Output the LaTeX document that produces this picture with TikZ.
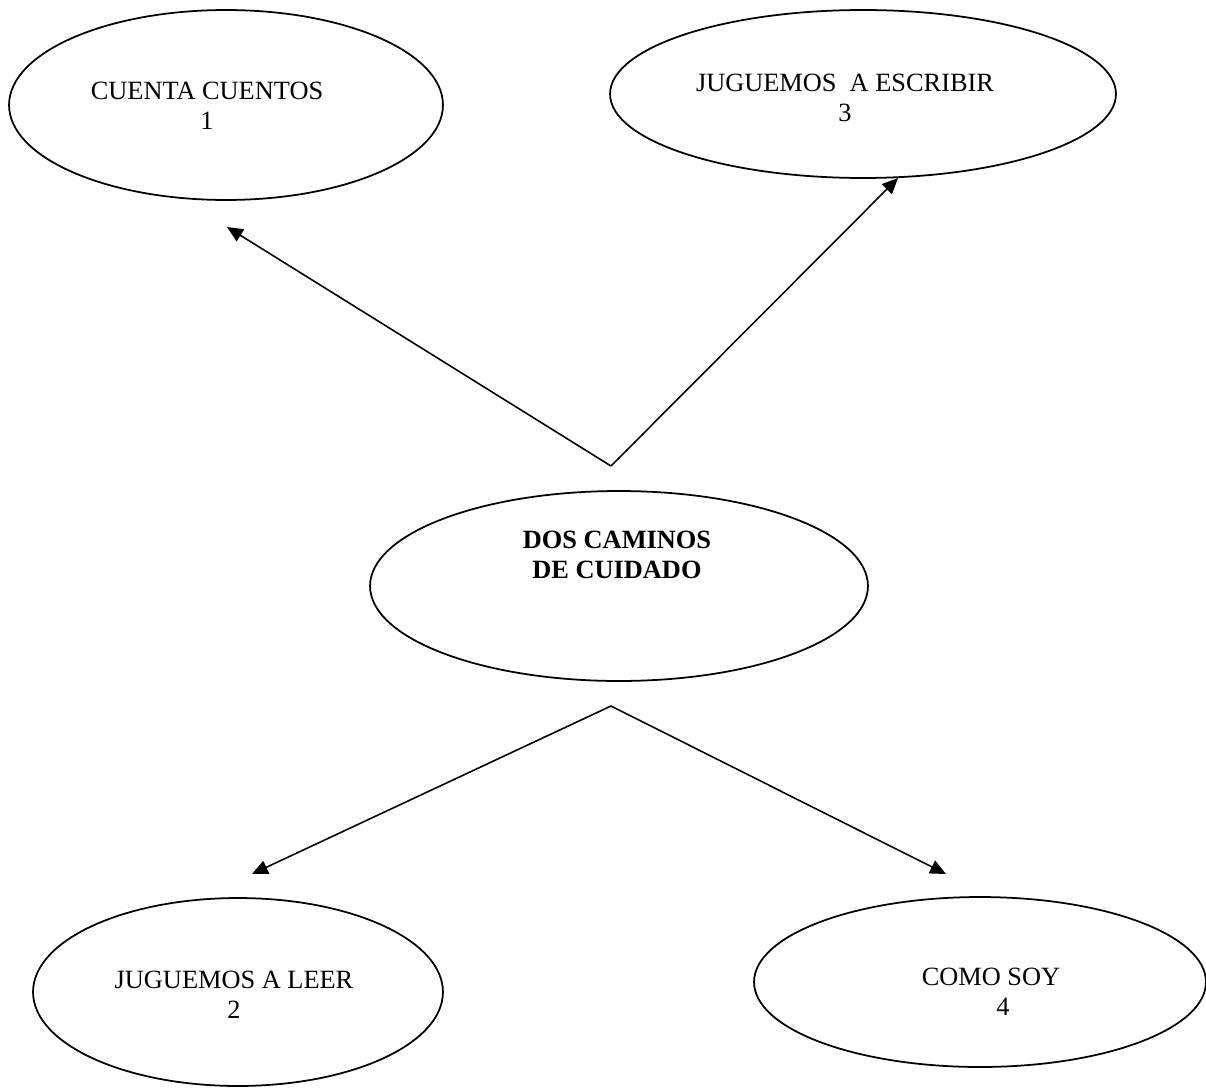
\documentclass[tikz,border=0pt]{standalone}
\usepackage{fontspec}
\setmainfont{Liberation Serif}
\usetikzlibrary{positioning,shapes.geometric,arrows.meta}

\tikzset{
  bubble/.style={draw,ellipse,line width=1pt,inner sep=0pt},
  caption/.style={align=center,inner sep=0pt,font=\fontsize{15}{17}\selectfont},
  link/.style={-{Triangle[length=9pt,width=8pt]},line width=0.9pt}
}

\begin{document}
\begin{tikzpicture}[x=0.02cm,y=-0.02cm]
    \useasboundingbox (0,0) rectangle (1206,1088);
    \node[bubble,minimum width=8.68cm,minimum height=3.8cm] (C1) at (226,105) {};
    \node[bubble,minimum width=10.12cm,minimum height=3.36cm] (C3) at (863,94) {};
    \node[bubble,minimum width=9.96cm,minimum height=3.8cm] (DC) at (619,586) {};
    \node[bubble,minimum width=8.2cm,minimum height=3.76cm] (C2) at (238,992) {};
    \node[bubble,minimum width=9.04cm,minimum height=3.4cm] (C4) at (980,982) {};
    \node[caption] (T1) at ([shift={(-19,1)}]C1.center) {CUENTA CUENTOS\\1};
    \node[caption] (T3) at ([shift={(-18,4)}]C3.center) {JUGUEMOS\ \ A ESCRIBIR\\3};
    \node[caption] (TD) at ([shift={(-2,-31)}]DC.center) {\bfseries DOS CAMINOS\\\bfseries DE CUIDADO};
    \node[caption] (T2) at ([shift={(-4,3)}]C2.center) {JUGUEMOS A LEER\\2};
    \node[caption] (T4) at ([shift={(11,10)}]C4.center) {COMO SOY\\\hspace*{0.9em}4};
    \coordinate (up) at (611,466);
    \coordinate (down) at (611,706);
    \coordinate (E1) at (227,227);
    \coordinate (E3) at (898,178);
    \coordinate (E2) at (252,874);
    \coordinate (E4) at (946,874);
    \draw[link] (up) -- (E1);
    \draw[link] (up) -- (E3);
    \draw[link] (down) -- (E2);
    \draw[link] (down) -- (E4);
  \end{tikzpicture}
\end{document}
